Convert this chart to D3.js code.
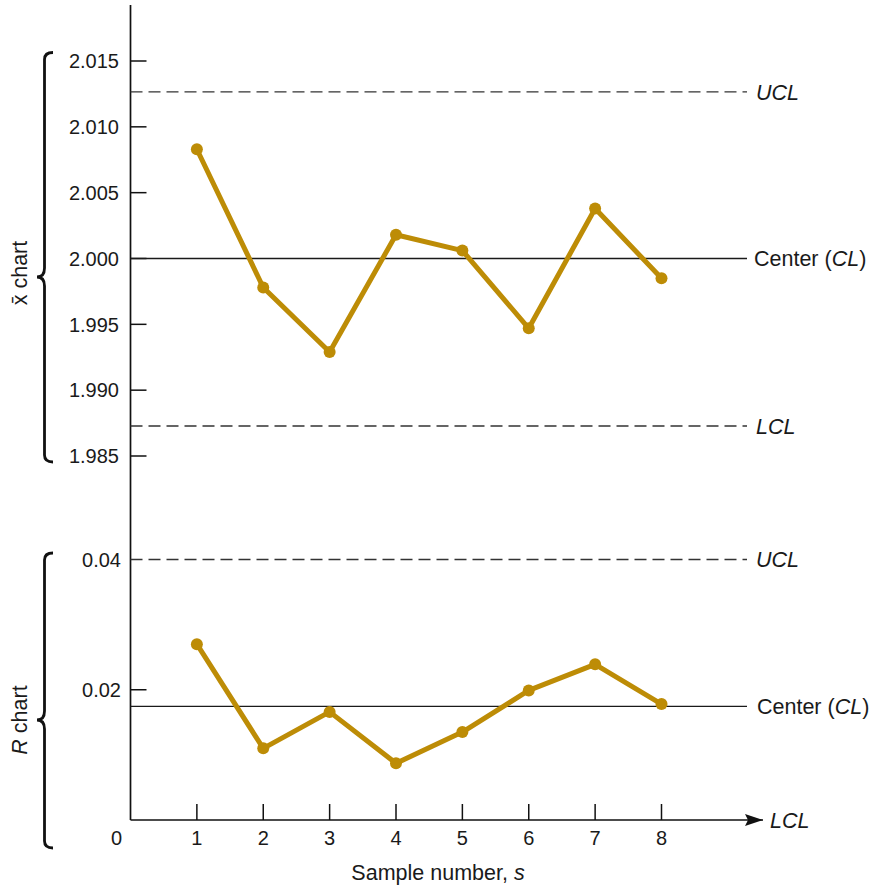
<!DOCTYPE html>
<html>
<head>
<meta charset="utf-8">
<script src="https://cdn.jsdelivr.net/npm/d3@7"></script>
<style>
  html, body { margin: 0; padding: 0; background: #fff; }
  svg { display: block; font-family: "Liberation Sans", Arial, Helvetica, sans-serif; }
</style>
</head>
<body>
<svg id="chart" width="870" height="886"></svg>
<script>
// ---- data ----
const samples = [1, 2, 3, 4, 5, 6, 7, 8];
const xbarValues = [2.0083, 1.9978, 1.9929, 2.0018, 2.0006, 1.9947, 2.0038, 1.9985];
const rangeValues = [0.0270, 0.0110, 0.0166, 0.0087, 0.0135, 0.0199, 0.0239, 0.0178];
const xbarTicks = [1.985, 1.990, 1.995, 2.000, 2.005, 2.010, 2.015];
const rTicks = [0.02, 0.04];
const xTicks = [0, 1, 2, 3, 4, 5, 6, 7, 8];
const xbarLimits = { UCL: 2.01265, CL: 2.000, LCL: 1.98728 };
const rLimits = { UCL: 0.04, CL: 0.01746, LCL: 0 };

// ---- layout ----
const svg = d3.select("#chart");
const gold = "#bd8c06";
const ink = "#1a1a1a";
const axisX = 130.5;
const lineEnd = 747;
const fs = 20;     // tick labels
const fl = 21.5;   // other labels

const x = d3.scaleLinear().domain([0, 8]).range([130.5, 661.5]);
const yX = d3.scaleLinear().domain([1.985, 2.015]).range([456, 61]);
const yR = d3.scaleLinear().domain([0, 0.04]).range([820, 559.5]);

// vertical axis line
svg.append("line").attr("x1", axisX).attr("x2", axisX).attr("y1", 5).attr("y2", yR(0))
  .attr("stroke", "#111").attr("stroke-width", 1.7);

// x axis line with arrow
svg.append("defs").append("marker")
  .attr("id", "arrow").attr("viewBox", "0 0 18 12").attr("refX", 18).attr("refY", 6)
  .attr("markerWidth", 18).attr("markerHeight", 12).attr("markerUnits", "userSpaceOnUse")
  .attr("orient", "auto")
  .append("path").attr("d", "M0,0 L18,6 L0,12 L3,6 Z").attr("fill", "#111");
svg.append("line").attr("x1", axisX).attr("x2", 763).attr("y1", yR(0)).attr("y2", yR(0))
  .attr("stroke", "#111").attr("stroke-width", 1.7).attr("marker-end", "url(#arrow)");

// x ticks and labels
const xt = svg.append("g");
xt.selectAll("line").data(samples).join("line")
  .attr("x1", d => x(d)).attr("x2", d => x(d))
  .attr("y1", yR(0)).attr("y2", yR(0) - 16)
  .attr("stroke", "#111").attr("stroke-width", 1.5);
xt.selectAll("text").data(xTicks).join("text")
  .attr("x", d => d === 0 ? x(0) - 14 : x(d))
  .attr("y", 845).attr("text-anchor", "middle")
  .attr("font-size", fs).attr("fill", ink).text(d => d);
svg.append("text").attr("x", 438).attr("y", 880).attr("text-anchor", "middle")
  .attr("font-size", fl).attr("fill", ink)
  .html('Sample number, <tspan font-style="italic">s</tspan>');

// ---- x-bar chart ----
const gx = svg.append("g");
gx.selectAll("line.tick").data(xbarTicks).join("line").attr("class", "tick")
  .attr("x1", axisX).attr("x2", axisX + 16)
  .attr("y1", d => yX(d)).attr("y2", d => yX(d))
  .attr("stroke", "#111").attr("stroke-width", 1.5);
gx.selectAll("text.tl").data(xbarTicks).join("text").attr("class", "tl")
  .attr("x", 119).attr("y", d => yX(d)).attr("dy", "0.36em")
  .attr("text-anchor", "end").attr("font-size", fs).attr("fill", ink)
  .text(d => d3.format(".3f")(d));

function hline(g, y, dashed) {
  g.append("line").attr("x1", axisX).attr("x2", lineEnd).attr("y1", y).attr("y2", y)
    .attr("stroke", dashed ? "#333" : "#1a1a1a").attr("stroke-width", dashed ? 1.3 : 1.3)
    .attr("stroke-dasharray", dashed ? "12,6" : null);
}
function label(g, xx, y, html) {
  g.append("text").attr("x", xx).attr("y", y).attr("dy", "0.36em")
    .attr("font-size", fl).attr("fill", ink).html(html);
}
hline(gx, yX(xbarLimits.UCL), true);
hline(gx, yX(xbarLimits.CL), false);
hline(gx, yX(xbarLimits.LCL), true);
label(gx, 756, yX(xbarLimits.UCL), '<tspan font-style="italic">UCL</tspan>');
label(gx, 754, yX(xbarLimits.CL), 'Center (<tspan font-style="italic">CL</tspan>)');
label(gx, 756, yX(xbarLimits.LCL), '<tspan font-style="italic">LCL</tspan>');

const lineX = d3.line().x((d, i) => x(samples[i])).y(d => yX(d));
gx.append("path").datum(xbarValues).attr("d", lineX)
  .attr("fill", "none").attr("stroke", gold).attr("stroke-width", 5).attr("stroke-linejoin", "round");
gx.selectAll("circle").data(xbarValues).join("circle")
  .attr("cx", (d, i) => x(samples[i])).attr("cy", d => yX(d)).attr("r", 6).attr("fill", gold);

// ---- R chart ----
const gr = svg.append("g");
gr.append("line").attr("x1", axisX).attr("x2", axisX + 16)
  .attr("y1", yR(rTicks[0])).attr("y2", yR(rTicks[0]))
  .attr("stroke", "#111").attr("stroke-width", 1.5);
gr.selectAll("text.tl").data(rTicks).join("text").attr("class", "tl")
  .attr("x", 121).attr("y", d => yR(d)).attr("dy", "0.36em")
  .attr("text-anchor", "end").attr("font-size", fs).attr("fill", ink)
  .text(d => d3.format(".2f")(d));
hline(gr, yR(rLimits.UCL), true);
hline(gr, yR(rLimits.CL), false);
label(gr, 756, yR(rLimits.UCL), '<tspan font-style="italic">UCL</tspan>');
label(gr, 757, yR(rLimits.CL), 'Center (<tspan font-style="italic">CL</tspan>)');
label(gr, 770, yR(rLimits.LCL), '<tspan font-style="italic">LCL</tspan>');

const lineR = d3.line().x((d, i) => x(samples[i])).y(d => yR(d));
gr.append("path").datum(rangeValues).attr("d", lineR)
  .attr("fill", "none").attr("stroke", gold).attr("stroke-width", 5).attr("stroke-linejoin", "round");
gr.selectAll("circle").data(rangeValues).join("circle")
  .attr("cx", (d, i) => x(samples[i])).attr("cy", d => yR(d)).attr("r", 6).attr("fill", gold);

// ---- braces ----
function brace(y0, yc, y1) {
  const xv = 44.5, tip = 37, hook = 53;
  return `M${hook},${y0} Q${xv},${y0} ${xv},${y0 + 7} L${xv},${yc - 9} Q${xv},${yc} ${tip},${yc}` +
         ` Q${xv},${yc} ${xv},${yc + 9} L${xv},${y1 - 7} Q${xv},${y1} ${hook},${y1}`;
}
svg.append("path").attr("d", brace(52.5, 277, 462))
  .attr("fill", "none").attr("stroke", "#111").attr("stroke-width", 2.8);
svg.append("path").attr("d", brace(553, 720, 848))
  .attr("fill", "none").attr("stroke", "#111").attr("stroke-width", 2.8);

svg.append("text").attr("transform", "translate(27,273) rotate(-90)")
  .attr("text-anchor", "middle").attr("font-size", fl).attr("fill", ink)
  .text("x\u0304 chart");
svg.append("text").attr("transform", "translate(27,720) rotate(-90)")
  .attr("text-anchor", "middle").attr("font-size", fl).attr("fill", ink)
  .html('<tspan font-style="italic">R</tspan> chart');
</script>
</body>
</html>
